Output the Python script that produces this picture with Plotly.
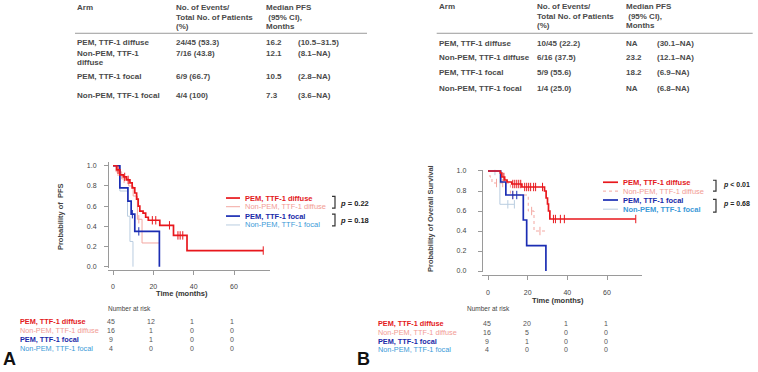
import plotly.graph_objects as go

W, H = 758, 372
FONT = "Liberation Sans, Arial, sans-serif"

def px(x):
    return x / W

def py(y):
    return 1 - y / H

# ---------------- data ----------------
arms = ["PEM, TTF-1 diffuse", "Non-PEM, TTF-1 diffuse", "PEM, TTF-1 focal", "Non-PEM, TTF-1 focal"]

# PFS (panel A) step curves: event times and survival after each step
pfs_pem_diffuse_t = [0, 1.8, 3.4, 5.1, 6.7, 8.4, 9.5, 10.8, 11.7, 12.5, 13.3, 14.9, 16.2, 17.5, 23.2, 30.0, 36.7]
pfs_pem_diffuse_s = [1.0, 0.96, 0.91, 0.89, 0.86, 0.83, 0.78, 0.73, 0.67, 0.60, 0.55, 0.53, 0.49, 0.46, 0.41, 0.31, 0.16]
pfs_pem_diffuse_end = 74.5
pfs_pem_diffuse_cens = [2.5, 5.8, 7.5, 19.5, 21.2, 28.0, 32.2, 33.3, 34.6, 74.5]

pfs_nonpem_diffuse_t = [0, 1.5, 4.3, 7.8, 10.0, 12.1, 14.4]
pfs_nonpem_diffuse_s = [1.0, 0.94, 0.87, 0.80, 0.70, 0.47, 0.235]
pfs_nonpem_diffuse_end = 23.0
pfs_nonpem_diffuse_cens = [2.5, 5.5, 12.8]

pfs_pem_focal_t = [0, 3.4, 7.4, 9.0, 10.8, 23.0]
pfs_pem_focal_s = [1.0, 0.78, 0.65, 0.52, 0.35, 0.0]
pfs_pem_focal_end = 23.0
pfs_pem_focal_cens = [9.6, 12.8]

pfs_nonpem_focal_t = [0, 3.4, 7.2, 8.4, 9.9]
pfs_nonpem_focal_s = [1.0, 0.75, 0.50, 0.25, 0.0]
pfs_nonpem_focal_end = 9.9
pfs_nonpem_focal_cens = []

# OS (panel B)
os_pem_diffuse_t = [0, 6.2, 7.0, 8.4, 9.6, 12.0, 17.1, 28.5, 29.3, 30.0, 30.5, 31.2]
os_pem_diffuse_s = [1.0, 0.98, 0.94, 0.91, 0.89, 0.87, 0.84, 0.80, 0.73, 0.67, 0.60, 0.52]
os_pem_diffuse_end = 74.5
os_pem_diffuse_cens = [8.0, 12.5, 13.5, 14.5, 15.5, 16.5, 18.5, 19.5, 20.5, 21.5, 23.0, 24.0, 27.5, 33.0, 34.0, 36.5, 38.5, 74.5]

os_nonpem_diffuse_t = [0, 1.0, 2.0, 11.3, 20.3, 23.2]
os_nonpem_diffuse_s = [1.0, 0.94, 0.88, 0.76, 0.60, 0.40]
os_nonpem_diffuse_end = 29.2
os_nonpem_diffuse_cens = [4.3, 7.4, 12.5, 22.0, 26.2]

os_pem_focal_t = [0, 6.4, 9.0, 17.8, 19.5, 29.2]
os_pem_focal_s = [1.0, 0.89, 0.76, 0.51, 0.255, 0.0]
os_pem_focal_end = 29.2
os_pem_focal_cens = [12.5, 14.5]

os_nonpem_focal_t = [0, 6.0]
os_nonpem_focal_s = [1.0, 0.667]
os_nonpem_focal_end = 13.3
os_nonpem_focal_cens = [3.5, 10.0, 13.3]

risk_times = [0, 20, 40, 60]
pfs_risk = [[45, 12, 1, 1], [16, 1, 0, 0], [9, 1, 0, 0], [4, 0, 0, 0]]
os_risk = [[45, 20, 1, 1], [16, 5, 0, 0], [9, 1, 0, 0], [4, 0, 0, 0]]

pfs_p = ["<i>p</i> = 0.22", "<i>p</i> = 0.18"]
os_p = ["<i>p</i> < 0.01", "<i>p</i> = 0.68"]

pfs_table = [
    ["PEM, TTF-1 diffuse", "24/45 (53.3)", "16.2", "(10.5–31.5)"],
    ["Non-PEM, TTF-1<br>diffuse", "7/16 (43.8)", "12.1", "(8.1–NA)"],
    ["PEM, TTF-1 focal", "6/9 (66.7)", "10.5", "(2.8–NA)"],
    ["Non-PEM, TTF-1 focal", "4/4 (100)", "7.3", "(3.6–NA)"],
]
os_table = [
    ["PEM, TTF-1 diffuse", "10/45 (22.2)", "NA", "(30.1–NA)"],
    ["Non-PEM, TTF-1 diffuse", "6/16 (37.5)", "23.2", "(12.1–NA)"],
    ["PEM, TTF-1 focal", "5/9 (55.6)", "18.2", "(6.9–NA)"],
    ["Non-PEM, TTF-1 focal", "1/4 (25.0)", "NA", "(6.8–NA)"],
]
table_headers = ["Arm", "No. of Events/<br>Total No. of Patients<br>(%)", "Median PFS<br> (95% CI),<br>Months"]

# ---------------- styles ----------------
line_colors = ["#e8171c", "#f3a7a1", "#1b2db3", "#b9cde0"]
text_colors = ["#e31a1c", "#f29b94", "#1a2aa8", "#3b9ad8"]
line_widths = [1.7, 1.0, 1.7, 1.0]
bold_a = [True, False, True, False]
bold_b = [True, False, True, True]

fig = go.Figure()


def surv_at(t, s, x):
    v = s[0]
    for ti, si in zip(t, s):
        if ti <= x:
            v = si
    return v


def add_curve(t, s, end, cens, color, width, xa, ya, dash="solid"):
    xs = list(t) + [end]
    ys = list(s) + [s[-1]]
    fig.add_trace(go.Scatter(x=xs, y=ys, mode="lines", line=dict(shape="hv", color=color, width=width, dash=dash),
                             xaxis=xa, yaxis=ya, hoverinfo="skip", showlegend=False))
    if cens:
        fig.add_trace(go.Scatter(x=cens, y=[surv_at(t, s, c) for c in cens], mode="markers",
                                 marker=dict(symbol="line-ns-open", size=6, color=color, line=dict(color=color, width=1)),
                                 xaxis=xa, yaxis=ya, hoverinfo="skip", showlegend=False))


pfs_curves = [
    (pfs_pem_diffuse_t, pfs_pem_diffuse_s, pfs_pem_diffuse_end, pfs_pem_diffuse_cens),
    (pfs_nonpem_diffuse_t, pfs_nonpem_diffuse_s, pfs_nonpem_diffuse_end, pfs_nonpem_diffuse_cens),
    (pfs_pem_focal_t, pfs_pem_focal_s, pfs_pem_focal_end, pfs_pem_focal_cens),
    (pfs_nonpem_focal_t, pfs_nonpem_focal_s, pfs_nonpem_focal_end, pfs_nonpem_focal_cens),
]
os_curves = [
    (os_pem_diffuse_t, os_pem_diffuse_s, os_pem_diffuse_end, os_pem_diffuse_cens),
    (os_nonpem_diffuse_t, os_nonpem_diffuse_s, os_nonpem_diffuse_end, os_nonpem_diffuse_cens),
    (os_pem_focal_t, os_pem_focal_s, os_pem_focal_end, os_pem_focal_cens),
    (os_nonpem_focal_t, os_nonpem_focal_s, os_nonpem_focal_end, os_nonpem_focal_cens),
]

for i in [3, 1, 2, 0]:
    t, s, e, c = pfs_curves[i]
    add_curve(t, s, e, c, line_colors[i], line_widths[i], "x", "y")
for i in [3, 1, 2, 0]:
    t, s, e, c = os_curves[i]
    add_curve(t, s, e, c, line_colors[i], line_widths[i], "x2", "y2", dash="dot" if i == 1 else "solid")

# ---------------- axes ----------------
axis_common = dict(showline=True, linecolor="#9a9a9a", linewidth=1, ticks="outside", ticklen=4,
                   tickcolor="#9a9a9a", tickwidth=1, showgrid=False, zeroline=False,
                   tickfont=dict(family=FONT, size=7, color="#444"), fixedrange=True)

# panel A: t=0 at x=113px, t=60 at 234px; s=0 at 268.3px, s=1 at 166px
ax_sc = (234 - 113) / 60
fig.update_layout(
    xaxis=dict(domain=[px(108), px(270)], range=[-(113 - 108) / ax_sc, (270 - 113) / ax_sc],
               anchor="free", position=py(271.7), tickvals=[0, 20, 40, 60], ticklabelstandoff=6, **axis_common),
    yaxis=dict(domain=[py(270), py(162)], range=[-(270 - 268.3) / 102.3, 1 + (166 - 162) / 102.3],
               anchor="free", position=px(108), tickvals=[0, 0.2, 0.4, 0.6, 0.8, 1.0], tickformat=".1f",
               ticklabelstandoff=6, **axis_common),
)
bx_sc = (607 - 488) / 60
fig.update_layout(
    xaxis2=dict(domain=[px(481.7), px(641.7)], range=[-(488 - 481.7) / bx_sc, (641.7 - 488) / bx_sc],
                anchor="free", position=py(276.7), tickvals=[0, 20, 40, 60], ticklabelstandoff=7, **axis_common),
    yaxis2=dict(domain=[py(273.3), py(170)], range=[-(273.3 - 272.7) / 101.4, 1 + (171.3 - 170) / 101.4],
                anchor="free", position=px(481.7), tickvals=[0, 0.2, 0.4, 0.6, 0.8, 1.0], tickformat=".1f",
                ticklabelstandoff=10, **axis_common),
)

ann = []
shapes = []


def text(x, y, s, size=8, color="#333", xanchor="left", b=False, xref="paper", angle=0, xshift=0):
    ann.append(dict(x=x if xref != "paper" else px(x), y=py(y), xref=xref, yref="paper", text=("<b>%s</b>" % s) if b else s,
                    showarrow=False, xanchor=xanchor, yanchor="middle", textangle=angle, xshift=xshift,
                    borderpad=0, borderwidth=0,
                    font=dict(family=FONT, size=size, color=color)))


def hline(x0, x1, y, color="#999", width=1, dash="solid"):
    shapes.append(dict(type="line", xref="paper", yref="paper", x0=px(x0), x1=px(x1), y0=py(y), y1=py(y),
                       line=dict(color=color, width=width, dash=dash)))


def bracket(x, y0, y1):
    shapes.append(dict(type="path", xref="paper", yref="paper",
                       path="M %f %f L %f %f L %f %f L %f %f" % (px(x - 3), py(y0), px(x), py(y0), px(x), py(y1), px(x - 3), py(y1)),
                       line=dict(color="#333", width=1.2)))


# ---------------- top tables ----------------
TS = 8
TC = "#4a4a4a"


def draw_table(x_cols, header_ys, line_y, line_x, row_ys, rows):
    text(x_cols[0], header_ys[0], "Arm", TS, TC, b=True)
    for j, hdr in enumerate(table_headers[1:]):
        for k, part in enumerate(hdr.split("<br>")):
            text(x_cols[j + 1], header_ys[k], part, TS, TC, b=True)
    hline(line_x[0], line_x[1], line_y, "#9a9a9a", 1)
    for r, row in enumerate(rows):
        parts = row[0].split("<br>")
        for k, p in enumerate(parts):
            text(x_cols[0], row_ys[r] + k * 10, p, TS, TC, b=True)
        text(x_cols[1], row_ys[r], row[1], TS, TC, b=True)
        text(x_cols[2], row_ys[r], row[2], TS, TC, b=True)
        text(x_cols[3], row_ys[r], row[3], TS, TC, b=True)


draw_table([77, 175.7, 265.7, 298.3], [6, 16, 25], 31.7, [75, 367], [40.7, 51.7, 76, 94.3], pfs_table)
draw_table([439.3, 536.7, 625.7, 656.7], [5, 15, 24.3], 31.7, [436.7, 752.7], [41.7, 56.7, 71.7, 87.3], os_table)

# ---------------- legends ----------------
def legend(x_line, x_text, ys, size, bold, dashes):
    for i, name in enumerate(arms):
        shapes.append(dict(type="line", xref="paper", yref="paper", x0=px(x_line[0]), x1=px(x_line[1]),
                           y0=py(ys[i]), y1=py(ys[i]), line=dict(color=line_colors[i], width=line_widths[i], dash=dashes[i])))
        text(x_text, ys[i], name, size, text_colors[i], b=bold[i])


legend((226, 240), 245, [198.7, 207.5, 217, 226], 7.5, bold_a, ["solid"] * 4)
legend((603, 618), 623, [182.7, 191.7, 200.7, 210], 7.5, bold_b, ["solid", "dot", "solid", "solid"])

bracket(335, 197, 209)
bracket(335, 215, 227)
text(340, 204, pfs_p[0], 7.5, "#222", b=True)
text(340, 221.5, pfs_p[1], 7.5, "#222", b=True)
bracket(716, 180.7, 191.7)
bracket(716, 200, 213)
text(722.5, 185.5, os_p[0], 7, "#222", b=True)
text(722.5, 205, os_p[1], 7, "#222", b=True)

# axis titles
text(60, 218, "Probability of  PFS", 7.5, "#444", xanchor="center", b=True, angle=-90)
text(430, 220, "Probability of Overall Survival", 7.5, "#444", xanchor="center", b=True, angle=-90)
text(181.7, 295.7, "Time (months)", 7.5, "#333", xanchor="center", b=True)
text(558, 302.7, "Time (months)", 7.5, "#333", xanchor="center", b=True)

# ---------------- risk tables ----------------
text(108, 310.7, "Number at risk", 6.5, "#444")
text(467, 310.3, "Number at risk", 6.5, "#444")
pfs_rows_y = [324.3, 333, 341.8, 351.2]
os_rows_y = [326, 334.7, 344, 352.7]
for i, name in enumerate(arms):
    text(20, pfs_rows_y[i], name, 7.3, text_colors[i], b=bold_a[i])
    text(378, os_rows_y[i], name, 7.3, text_colors[i], b=bold_a[i])
    for j, tm in enumerate(risk_times):
        text(tm, pfs_rows_y[i], str(pfs_risk[i][j]), 7, "#555", xanchor="center", xref="x", xshift=-2)
        text(tm, os_rows_y[i], str(os_risk[i][j]), 7, "#555", xanchor="center", xref="x2", xshift=-1)

text(3, 361.5, "A", 18, "#111", b=True)
text(357, 361.5, "B", 18, "#111", b=True)

fig.update_layout(width=W, height=H, margin=dict(l=0, r=0, t=0, b=0), paper_bgcolor="white",
                  plot_bgcolor="rgba(0,0,0,0)", showlegend=False, annotations=ann, shapes=shapes)

fig.write_html("out.html", config={"displayModeBar": False, "staticPlot": True},
               post_script="document.body.style.margin='0';document.body.style.overflow='hidden';")
